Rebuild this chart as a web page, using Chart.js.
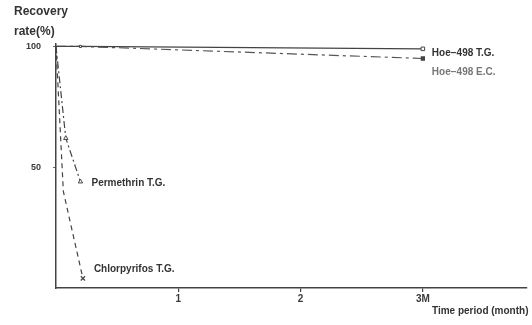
<!DOCTYPE html>
<html>
<head>
<meta charset="utf-8">
<script src="https://cdn.jsdelivr.net/npm/chart.js@4"></script>
<style>
  body { margin: 0; background: #fff; }
  #wrap { width: 532px; height: 325px; }
</style>
</head>
<body>
<div id="wrap"><canvas id="graph"></canvas></div>
<script>
// months after treatment, recovery rate (%)
const hoeTgMonths = [0, 0.2, 3];
const hoeTgValues = [100, 100, 99];
const hoeEcMonths = [0, 0.2, 3];
const hoeEcValues = [100, 100, 95];
const permMonths = [0, 0.08, 0.2];
const permValues = [100, 62, 44];
const chlorMonths = [0, 0.06, 0.22];
const chlorValues = [100, 40, 4];

const xTicks = [1, 2, 3];
const xTickLabels = ["1", "2", "3M"];
const yTicks = [50, 100];

const ink = "#3a3a3a";
const fam = "'Liberation Sans', Arial, sans-serif";

function pts(xs, ys) {
  return xs.map((x, i) => ({ x: x, y: ys[i] }));
}

// text labels next to the curves
const labels = [
  { text: "Hoe\u2212498 T.G.", x: 3, y: 99, dx: 9, dy: 4, color: "#333" },
  { text: "Hoe\u2212498 E.C.", x: 3, y: 95, dx: 9, dy: 14, color: "#777" },
  { text: "Permethrin T.G.", x: 0.2, y: 44, dx: 11, dy: 2, color: "#333" },
  { text: "Chlorpyrifos T.G.", x: 0.22, y: 4, dx: 11, dy: -9, color: "#333" },
];

const textPlugin = {
  id: "texts",
  afterDraw(chart) {
    const c = chart.ctx;
    const xs = chart.scales.x, ys = chart.scales.y;
    c.save();
    c.font = "bold 12px " + fam;
    c.fillStyle = "#333";
    c.textBaseline = "middle";
    c.fillText("Recovery", 14, 12);
    c.fillText("rate(%)", 14, 32);
    c.font = "bold 10px " + fam;
    c.fillText("Time period (month)", 432, 311);
    labels.forEach(l => {
      c.fillStyle = l.color;
      c.fillText(l.text, xs.getPixelForValue(l.x) + l.dx, ys.getPixelForValue(l.y) + l.dy);
    });
    c.restore();
  }
};

new Chart(document.getElementById("graph"), {
  type: "scatter",
  data: {
    datasets: [
      {
        label: "Hoe-498 T.G.",
        data: pts(hoeTgMonths, hoeTgValues),
        showLine: true,
        borderColor: "#444",
        borderWidth: 1.3,
        pointStyle: "rect",
        pointRadius: [0, 1.5, 2.5],
        pointBackgroundColor: "#fff",
        pointBorderColor: "#444",
        pointBorderWidth: 1,
      },
      {
        label: "Hoe-498 E.C.",
        data: pts(hoeEcMonths, hoeEcValues),
        showLine: true,
        borderColor: "#555",
        borderWidth: 1.2,
        borderDash: [10, 4, 3, 4],
        pointStyle: "rect",
        pointRadius: [0, 0, 2.2],
        pointBackgroundColor: "#444",
        pointBorderColor: "#444",
      },
      {
        label: "Permethrin T.G.",
        data: pts(permMonths, permValues),
        showLine: true,
        borderColor: "#444",
        borderWidth: 1.2,
        borderDash: [7, 3, 2, 3],
        pointStyle: "triangle",
        pointRadius: [0, 2.5, 2.5],
        pointBackgroundColor: "#fff",
        pointBorderColor: "#444",
        pointBorderWidth: 1,
      },
      {
        label: "Chlorpyrifos T.G.",
        data: pts(chlorMonths, chlorValues),
        showLine: true,
        borderColor: "#444",
        borderWidth: 1.2,
        borderDash: [5, 4],
        pointStyle: "crossRot",
        pointRadius: [0, 0, 3],
        pointBorderColor: "#444",
        pointBorderWidth: 1.2,
      },
    ],
  },
  options: {
    responsive: true,
    maintainAspectRatio: false,
    animation: false,
    layout: { padding: { top: 44, bottom: 17, left: 0, right: 4 } },
    plugins: { legend: { display: false }, tooltip: { enabled: false } },
    scales: {
      x: {
        type: "linear",
        min: 0,
        max: 3.85,
        afterFit(scale) { scale.height = 20; },
        afterBuildTicks(scale) { scale.ticks = xTicks.map(v => ({ value: v })); },
        border: { display: true, color: "#444", width: 1.5 },
        grid: { drawOnChartArea: false, drawTicks: true, tickLength: 4, color: "#444", lineWidth: 1.2 },
        ticks: {
          color: ink,
          font: { family: fam, size: 10, weight: "bold" },
          padding: 1,
          maxRotation: 0,
          autoSkip: false,
          callback: (v) => xTickLabels[xTicks.indexOf(v)],
        },
      },
      y: {
        min: 0,
        max: 101,
        afterFit(scale) { scale.width = 56; },
        afterBuildTicks(scale) { scale.ticks = yTicks.map(v => ({ value: v })); },
        border: { display: true, color: "#444", width: 1.5 },
        grid: { drawOnChartArea: false, drawTicks: true, tickLength: 3, color: "#666", lineWidth: 1 },
        ticks: {
          color: ink,
          font: { family: fam, size: 9, weight: "bold" },
          padding: 12,
          callback: (v) => String(v),
        },
      },
    },
  },
  plugins: [textPlugin],
});
</script>
</body>
</html>
